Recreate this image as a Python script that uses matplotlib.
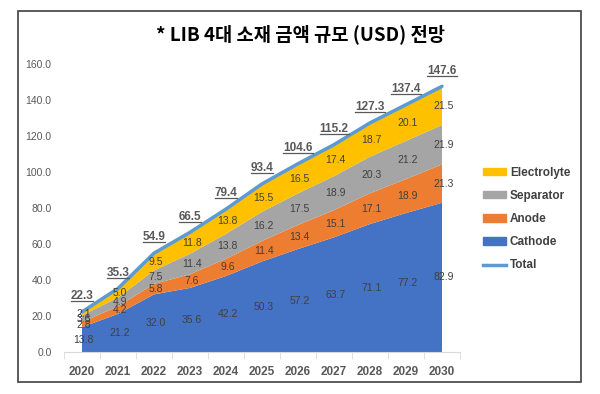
import numpy as np
import matplotlib
matplotlib.use("Agg")
from matplotlib import pyplot as plt
from matplotlib.patches import Patch, Rectangle
from matplotlib.lines import Line2D

plt.rcParams['font.family'] = ['Liberation Sans', 'Noto Sans CJK KR', 'DejaVu Sans']

years = ["2020", "2021", "2022", "2023", "2024", "2025", "2026", "2027", "2028", "2029", "2030"]
cathode = [13.8, 21.2, 32.0, 35.6, 42.2, 50.3, 57.2, 63.7, 71.1, 77.2, 82.9]
anode = [2.8, 4.2, 5.8, 7.6, 9.6, 11.4, 13.4, 15.1, 17.1, 18.9, 21.3]
separator = [3.6, 4.9, 7.5, 11.4, 13.8, 16.2, 17.5, 18.9, 20.3, 21.2, 21.9]
electrolyte = [2.1, 5.0, 9.5, 11.8, 13.8, 15.5, 16.5, 17.4, 18.7, 20.1, 21.5]
total = [22.3, 35.3, 54.9, 66.5, 79.4, 93.4, 104.6, 115.2, 127.3, 137.4, 147.6]

names = ["Cathode", "Anode", "Separator", "Electrolyte"]
colors = ["#4472C4", "#ED7D31", "#A5A5A5", "#FFC000"]
line_color = "#5B9BD5"
txt = "#404040"
axis_txt = "#595959"

fig = plt.figure(figsize=(6.0, 3.94), dpi=100)
ax = fig.add_axes([64/600, 42/394, 396/600, 288/394])

# outer frame
fig.patches.append(Rectangle((18/600, 12/394), 563/600, 371/394, transform=fig.transFigure,
                             fill=False, edgecolor="#404040", linewidth=1.2))

x = np.arange(len(years))
series = [cathode, anode, separator, electrolyte]
ax.stackplot(x, *series, colors=colors, linewidth=0)
ax.plot(x, total, color=line_color, linewidth=2.5, solid_capstyle='round')

# segment labels
base = np.zeros(len(years))
for vals in series:
    v = np.array(vals)
    for i in range(len(years)):
        ax.text(x[i] + 0.05, base[i] + v[i] / 2, f"{v[i]:.1f}", ha='center', va='center',
                fontsize=7.5, color=txt)
    base += v

# total labels (underlined afterwards)
tot_labels = []
for i in range(len(years)):
    t = ax.annotate(f"{total[i]:.1f}", (x[i], total[i]),
                    xytext=(0, 7), textcoords='offset points', ha='center', va='bottom',
                    fontsize=8.5, color=axis_txt, fontweight='bold')
    tot_labels.append(t)

ax.set_xlim(-0.5, 10.5)
ax.set_ylim(0, 160)
ax.set_yticks(np.arange(0, 161, 20))
ax.set_yticklabels([f"{v:.1f}" for v in np.arange(0, 161, 20)])
ax.set_xticks(x)
ax.set_xticklabels(years, fontweight='bold')
ax.set_xticks(np.arange(-0.5, 10.6, 1), minor=True)
ax.tick_params(axis='x', which='major', length=0, pad=10, labelsize=8.5, labelcolor=axis_txt)
ax.tick_params(axis='x', which='minor', length=5, color="#D9D9D9")
ax.tick_params(axis='y', length=0, pad=9, labelsize=7.5, labelcolor=axis_txt)
for s in ['top', 'right', 'left']:
    ax.spines[s].set_visible(False)
ax.spines['bottom'].set_color("#D9D9D9")

handles = [Patch(color=colors[3]), Patch(color=colors[2]), Patch(color=colors[1]), Patch(color=colors[0]),
           Line2D([], [], color=line_color, linewidth=2.5)]
labels = ["Electrolyte", "Separator", "Anode", "Cathode", "Total"]
leg = fig.legend(handles, labels, loc='upper left', bbox_to_anchor=(472/600, 1 - 156/394),
                 frameon=False, fontsize=8.5, handlelength=2.0, handleheight=0.6,
                 labelspacing=0.95, handletextpad=0.3)
for t in leg.get_texts():
    t.set_fontweight('bold')
    t.set_color(txt)

fig.text(0.5, 1 - 34/394, "* LIB 4대 소재 금액 규모 (USD) 전망", ha='center', va='center',
         fontsize=13.5, fontweight='bold', family=['Noto Sans CJK KR', 'DejaVu Sans'])

# underline the total labels
fig.canvas.draw()
inv = fig.transFigure.inverted()
for t in tot_labels:
    bb = t.get_window_extent()
    (x0, y0), (x1, _) = inv.transform([(bb.x0, bb.y0 + 1), (bb.x1, bb.y0)])
    fig.add_artist(Line2D([x0, x1], [y0, y0], transform=fig.transFigure,
                          color=axis_txt, linewidth=0.9))

fig.savefig("out.png", dpi=100)
